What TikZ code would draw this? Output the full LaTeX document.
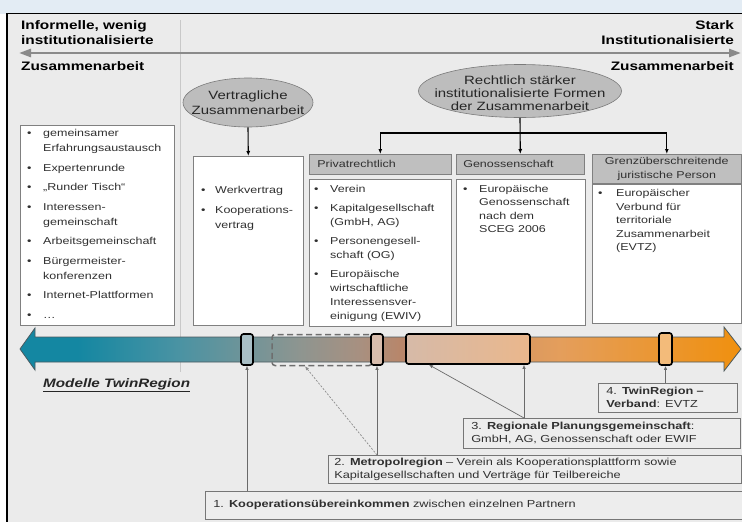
\documentclass[tikz,border=0pt]{standalone}
\usepackage{fontspec}
\setmainfont{Liberation Sans}[FakeStretch=1.25]
\usetikzlibrary{positioning,shapes.geometric,arrows.meta}

\definecolor{bandblue}{HTML}{E3ECF4}
\definecolor{panel}{HTML}{EBEBEB}
\definecolor{boxline}{HTML}{808080}
\definecolor{hdrfill}{HTML}{BFBFBF}
\definecolor{ellfill}{HTML}{BDBDBD}
\definecolor{ellline}{HTML}{7A7A7A}
\definecolor{txt}{HTML}{303030}
\definecolor{scalegray}{HTML}{8A8A8A}
\definecolor{sepgray}{HTML}{C8C8C8}
\definecolor{connline}{HTML}{6A6A6A}
\definecolor{dotline}{HTML}{8C8C8C}
\definecolor{dashgray}{HTML}{6E6E6E}
\definecolor{lblline}{HTML}{767676}
\definecolor{lblfill}{HTML}{EDEDED}
\definecolor{arrowline}{HTML}{4A5A60}
\definecolor{tealA}{HTML}{1487A2}
\definecolor{tealB}{HTML}{4A93A3}
\definecolor{grayC}{HTML}{8E9590}
\definecolor{brownD}{HTML}{A89080}
\definecolor{brownE}{HTML}{B8866A}
\definecolor{orangeF}{HTML}{E49E5C}
\definecolor{orangeG}{HTML}{F0900E}
\definecolor{mk1}{HTML}{A9BFC6}
\definecolor{mk2}{HTML}{D7BCAC}
\definecolor{mk3a}{HTML}{D6BAA8}
\definecolor{mk3b}{HTML}{EAB78C}
\definecolor{mk4}{HTML}{F3BB7A}

\pgfdeclarehorizontalshading{twinband}{100bp}{color(0bp)=(tealA); color(25bp)=(tealA);
	color(29bp)=(tealA); color(36bp)=(tealB); color(44.4bp)=(grayC); color(48.6bp)=(brownD);
	color(51.4bp)=(brownE); color(62.4bp)=(orangeF); color(75bp)=(orangeG); color(100bp)=(orangeG)}

\begin{document}
\begin{tikzpicture}[x=1pt,y=-1pt
	,every node/.append style={text=txt}
	,frame/.style={draw=black, line width=1.2, fill=panel}
	,head/.style={font=\fontsize{12.3}{15}\selectfont\bfseries, text=black, inner sep=0}
	,scalebar/.style={draw=scalegray, line width=2.6, {Triangle[length=12pt,width=8pt]}-{Triangle[length=12pt,width=8pt]}}
	,ellip/.style={ellipse, draw=ellline, fill=ellfill, inner sep=0, line width=0.6}
	,elltext/.style={font=\fontsize{12}{#1}\selectfont, align=center, inner sep=0, text=black!85}
	,whitebox/.style={draw=boxline, fill=white, anchor=north west, inner sep=0, line width=0.6}
	,hdr/.style={draw=boxline, fill=hdrfill, anchor=north west, inner ysep=0, line width=0.6, font=\fontsize{10}{14}\selectfont}
	,items/.style={anchor=north west, inner sep=0, font=\fontsize{10}{#1}\selectfont}
	,blk/.style={draw=black, line width=1.1, -{Latex[length=5pt,width=4pt]}}
	,marker/.style={draw=black, line width=1.6, rounded corners=2.5, inner sep=0, minimum width=12, minimum height=31}
	,lbox/.style={draw=lblline, fill=lblfill, anchor=north west, inner ysep=0, align=left, font=\fontsize{10.2}{13}\selectfont, line width=0.6}
	,conn/.style={draw=connline, line width=0.7, -{Latex[length=4pt,width=3.5pt]}}
]
	\useasboundingbox (0,0) rectangle (742,522);
	\clip (0,0) rectangle (742,522);
	\fill[bandblue] (0,0) rectangle (742,13.5);
	\draw[frame] (7,13.5) rectangle (750,530);
	\draw[sepgray, line width=0.8] (180,20) -- (180,372);

	% scale of institutionalisation
	\node[head, anchor=north west, align=left] (lowL) at (21,20.5) {Informelle, wenig\\institutionalisierte};
	\node[head, anchor=base west] (lowZ) at (21,70) {Zusammenarbeit};
	\node[head, anchor=north east, align=right] (highL) at (734,20.5) {Stark\\Institutionalisierte};
	\node[head, anchor=base east] (highZ) at (734,70) {Zusammenarbeit};
	\coordinate (scaleL) at (19,53);
	\coordinate (scaleR) at (741,53);
	\draw[scalebar] (scaleL) -- (scaleR);

	% ellipses
	\node[ellip, minimum width=130, minimum height=49] (vertrag) at (248,102.5) {};
	\node[elltext=15] (vertragT) at (vertrag) {Vertragliche\\Zusammenarbeit};
	\node[ellip, minimum width=203, minimum height=53] (rechtlich) at (520,91) {};
	\node[elltext=13] (rechtlichT) at (520,93) {Rechtlich stärker\\institutionalisierte Formen\\der Zusammenarbeit};

	% boxes
	\node[whitebox, minimum width=154, minimum height=200] (informal) at (20,125) {};
	\node[whitebox, minimum width=110, minimum height=169] (werk) at (193,156) {};
	\node[hdr, minimum width=142, minimum height=20, text width=126, inner xsep=8, align=left] (privHead) at (309,154) {Privatrechtlich};
	\node[whitebox, minimum width=142, minimum height=147] (privBody) at (309,179) {};
	\node[hdr, minimum width=128, minimum height=20, text width=114, inner xsep=7, align=left] (genoHead) at (456,154) {Genossenschaft};
	\node[whitebox, minimum width=129, minimum height=146] (genoBody) at (456,179) {};
	\node[hdr, minimum width=149, minimum height=29, text width=141, inner xsep=4, align=center] (grenzHead) at (592,154) {Grenzüberschreitende\\juristische Person};
	\node[whitebox, minimum width=149, minimum height=139] (grenzBody) at (592,184) {};

	\node[items=15] (informalList) at (27,126) {\begin{tabular}{@{}p{16pt}@{}l@{}}
		\textbullet & gemeinsamer\\ & Erfahrungsaustausch\\[4.5pt]
		\textbullet & Expertenrunde\\[4.5pt]
		\textbullet & „Runder Tisch“\\[4.5pt]
		\textbullet & Interessen-\\ & gemeinschaft\\[4.5pt]
		\textbullet & Arbeitsgemeinschaft\\[4.5pt]
		\textbullet & Bürgermeister-\\ & konferenzen\\[4.5pt]
		\textbullet & Internet-Plattformen\\[4.5pt]
		\textbullet & …
	\end{tabular}};
	\node[items=15] (werkList) at (201,183) {\begin{tabular}{@{}p{14pt}@{}l@{}}
		\textbullet & Werkvertrag\\[5pt]
		\textbullet & Kooperations-\\ & vertrag
	\end{tabular}};
	\node[items=14] (privList) at (314,182.5) {\begin{tabular}{@{}p{16pt}@{}l@{}}
		\textbullet & Verein\\[5pt]
		\textbullet & Kapitalgesellschaft\\ & (GmbH, AG)\\[5pt]
		\textbullet & Personengesell-\\ & schaft (OG)\\[5pt]
		\textbullet & Europäische\\ & wirtschaftliche\\ & Interessensver-\\ & einigung (EWIV)
	\end{tabular}};
	\node[items=13.3] (genoList) at (463,183) {\begin{tabular}{@{}p{16pt}@{}l@{}}
		\textbullet & Europäische\\ & Genossenschaft\\ & nach dem\\ & SCEG 2006
	\end{tabular}};
	\node[items=13.5] (grenzList) at (598,187) {\begin{tabular}{@{}p{18pt}@{}l@{}}
		\textbullet & Europäischer\\ & Verbund für\\ & territoriale\\ & Zusammenarbeit\\ & (EVTZ)
	\end{tabular}};

	% arrows from the ellipses
	\draw[blk] (vertrag.south) -- (werk.north);
	\coordinate (bar) at (520,133);
	\draw[blk,-] (privHead.north |- bar) -- (grenzHead.north |- bar);
	\draw[blk] (privHead.north |- bar) -- (privHead.north);
	\draw[blk] (grenzHead.north |- bar) -- (grenzHead.north);
	\draw[blk] (rechtlich.south) -- (genoHead.north);

	% TwinRegion band
	\shade[shading=twinband, draw=arrowline, line width=0.8] (20,349) -- (35,328) -- (35,337) -- (724,337)
		-- (724,327) -- (741,349) -- (724,371) -- (724,362) -- (35,362) -- (35,370) -- cycle;
	\node[draw=dashgray, dashed, dash pattern=on 6pt off 3.5pt, line width=1.5, rounded corners=3, inner sep=0,
		minimum width=100, minimum height=31] (mdash) at (322,350) {};
	\node[marker, fill=mk1] (m1) at (247,349.5) {};
	\node[marker, fill=mk2] (m2) at (377,349.5) {};
	\node[marker, minimum width=124, minimum height=30, left color=mk3a, right color=mk3b] (m3) at (468,349) {};
	\node[marker, minimum width=13, minimum height=32, fill=mk4] (m4) at (665.5,349) {};
	\node[font=\fontsize{12.2}{15}\selectfont\bfseries\itshape, text=black!85, anchor=base west, inner sep=0] (modelle) at (43,387) {\underline{Modelle TwinRegion}};

	% models
	\node[lbox, minimum width=537, minimum height=28, text width=521, inner xsep=8] (lab1) at (205,491)
		{1. \textbf{Kooperationsübereinkommen} zwischen einzelnen Partnern};
	\node[lbox, minimum width=413, minimum height=28, text width=401, inner xsep=6] (lab2) at (328,455)
		{2. \textbf{Metropolregion} – Verein als Kooperationsplattform sowie\\Kapitalgesellschaften und Verträge für Teilbereiche};
	\node[lbox, minimum width=277, minimum height=30, text width=261, inner xsep=8] (lab3) at (463,418)
		{3. \textbf{Regionale Planungsgemeinschaft}:\\GmbH, AG, Genossenschaft oder EWIF};
	\node[lbox, minimum width=139, minimum height=29, text width=123, inner xsep=8] (lab4) at (598,383)
		{4. \textbf{TwinRegion –}\\\textbf{Verband}: EVTZ};

	\draw[conn] (m1.south |- lab1.north) -- (m1.south);
	\draw[conn] (m2.south |- lab2.north) -- (m2.south);
	\draw[conn, draw=dotline, dash pattern=on 2pt off 1.5pt] (m2.south |- lab2.north) -- ([xshift=-17pt]mdash.south);
	\coordinate (lab3top) at ([xshift=61pt]lab3.north west);
	\draw[conn] (lab3top) -- (lab3top |- m3.south);
	\draw[conn] (lab3top) -- ([xshift=-39pt]m3.south);
	\draw[conn, line width=1.2] (m4.south |- lab4.north) -- (m4.south);
\end{tikzpicture}
\end{document}
